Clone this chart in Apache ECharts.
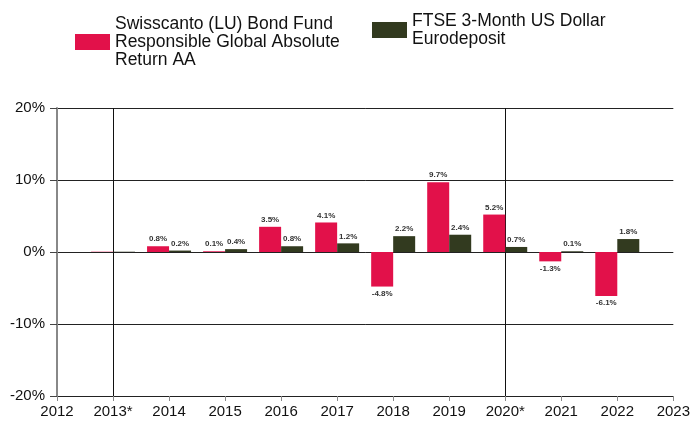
<!DOCTYPE html>
<html>
<head>
<meta charset="utf-8">
<script src="https://cdn.jsdelivr.net/npm/echarts@6/dist/echarts.min.js"></script>
<style>
  html, body { margin: 0; padding: 0; background: #fff; }
  #chart { width: 693px; height: 423px; }
</style>
</head>
<body>
<div id="chart"></div>
<script>
// years on the axis (first and last are empty slots)
const years = ['2012', '2013*', '2014', '2015', '2016', '2017', '2018', '2019', '2020*', '2021', '2022', '2023'];
// yearly performance in %
const fundValues = [null, 0.04, 0.8, 0.1, 3.5, 4.1, -4.8, 9.7, 5.2, -1.3, -6.1, null];
const benchValues = [null, 0.04, 0.2, 0.4, 0.8, 1.2, 2.2, 2.4, 0.7, 0.1, 1.8, null];
const fundName = 'Swisscanto (LU) Bond Fund\nResponsible Global Absolute\nReturn AA';
const benchName = 'FTSE 3-Month US Dollar\nEurodeposit';
const markYears = ['2013*', '2020*'];

const font = 'Arial, "Liberation Sans", sans-serif';

function toBarData(arr) {
  return arr.map(v => {
    if (v === null) return '-';
    return { value: v, label: { position: v < 0 ? 'bottom' : 'top' } };
  });
}

const barLabel = {
  show: true,
  fontSize: 8,
  fontWeight: 'bold',
  color: '#333',
  fontFamily: font,
  distance: 3,
  formatter: p => Math.abs(p.value) < 0.05 ? '' : p.value.toFixed(1) + '%'
};

const legendText = { fontSize: 17.5, color: '#111', fontFamily: font, lineHeight: 18 };

const chart = echarts.init(document.getElementById('chart'));
chart.setOption({
  animation: false,
  legend: [
    {
      data: [fundName], left: 75, top: 15, padding: 0, icon: 'rect',
      itemWidth: 35, itemHeight: 16, selectedMode: false, textStyle: legendText
    },
    {
      data: [benchName], left: 372, top: 12, padding: 0, icon: 'rect',
      itemWidth: 35, itemHeight: 16, selectedMode: false, textStyle: legendText
    }
  ],
  grid: { left: 57, right: 13, top: 108, bottom: 27 },
  xAxis: {
    type: 'category',
    data: years,
    boundaryGap: false,
    axisLine: { onZero: false, lineStyle: { color: '#222', width: 1 } },
    axisTick: { show: true, length: 5, lineStyle: { color: '#888' } },
    axisLabel: { fontSize: 15, color: '#111', fontFamily: font, margin: 8, interval: 0 },
    splitLine: {
      show: true,
      interval: (i, name) => markYears.indexOf(name) >= 0,
      lineStyle: { color: '#111', width: 1 }
    }
  },
  yAxis: {
    type: 'value',
    min: -20, max: 20, interval: 10,
    axisLine: { show: true, lineStyle: { color: '#888', width: 2 } },
    axisTick: { show: true, length: 7, lineStyle: { color: '#444' } },
    axisLabel: { fontSize: 15, color: '#111', fontFamily: font, margin: 12, formatter: '{value}%' },
    splitLine: { show: true, lineStyle: { color: '#222', width: 1 } }
  },
  series: [
    {
      name: fundName,
      type: 'bar',
      data: toBarData(fundValues),
      barWidth: 22,
      barGap: '0%',
      itemStyle: { color: '#E2114A' },
      label: barLabel
    },
    {
      name: benchName,
      type: 'bar',
      data: toBarData(benchValues),
      barWidth: 22,
      itemStyle: { color: '#323A1F' },
      label: barLabel
    }
  ]
});
</script>
</body>
</html>
